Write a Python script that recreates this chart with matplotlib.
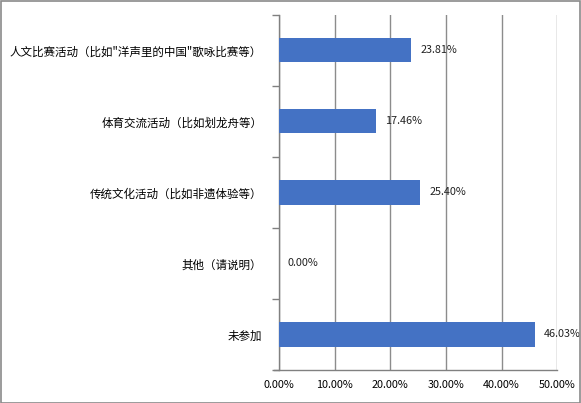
import matplotlib
matplotlib.use("Agg")
import matplotlib.pyplot as plt
from matplotlib.patches import Rectangle

plt.rcParams['font.family'] = ['Noto Sans CJK SC', 'DejaVu Sans']

categories = ['人文比赛活动（比如"洋声里的中国"歌咏比赛等）',
              '体育交流活动（比如划龙舟等）',
              '传统文化活动（比如非遗体验等）',
              '其他（请说明）',
              '未参加']
values = [23.81, 17.46, 25.40, 0.00, 46.03]
xticks = [0, 10, 20, 30, 40, 50]
xtick_labels = ['0.00%', '10.00%', '20.00%', '30.00%', '40.00%', '50.00%']

fig = plt.figure(figsize=(5.81, 4.03), dpi=100)
ax = fig.add_axes([0.480, 0.082, 0.479, 0.881])

n = len(categories)
ypos = list(range(n))[::-1]
ax.barh(ypos, values, height=0.34, color='#4472C4', zorder=3)
for y, v in zip(ypos, values):
    ax.text(v + 1.6, y, f'{v:.2f}%', va='center', ha='left', fontsize=7.8, color='#222222')

ax.set_xlim(0, 50)
ax.set_ylim(-0.5, n - 0.5)
ax.set_xticks(xticks)
ax.set_xticklabels(xtick_labels, fontsize=7.8)
ax.set_yticks(ypos)
ax.set_yticklabels(categories, fontsize=8.3)
ax.set_yticks([i - 0.5 for i in range(n + 1)], minor=True)
ax.tick_params(axis='y', which='major', length=0, pad=12)
ax.tick_params(axis='y', which='minor', length=5, color='#808080', width=1)
ax.tick_params(axis='x', length=0, pad=7)
ax.grid(axis='x', color='#8c8c8c', linewidth=1, zorder=0)
for s in ['top', 'right']:
    ax.spines[s].set_visible(False)
ax.spines['left'].set_color('#808080')
ax.spines['bottom'].set_color('#808080')
ax.spines['left'].set_linewidth(1)
ax.spines['bottom'].set_linewidth(1)
ax.spines['bottom'].set_bounds(-0.9, 50)
ax.spines['bottom'].set_clip_on(False)

fig.patches.append(Rectangle((0.001, 0.001), 0.997, 0.996, transform=fig.transFigure,
                             fill=False, edgecolor='#8a8a8a', linewidth=1.2))

fig.savefig('out.png', dpi=100)
